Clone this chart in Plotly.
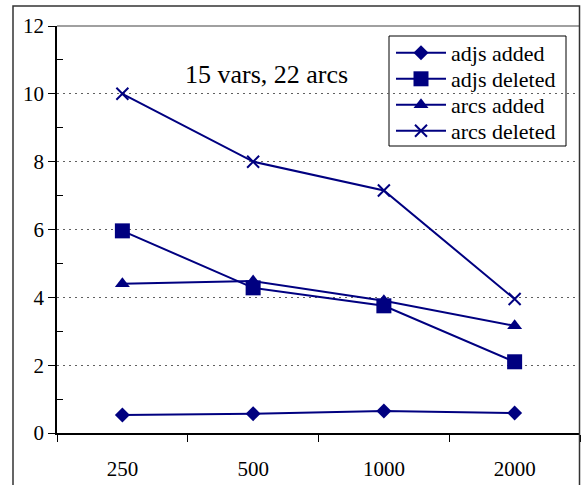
import plotly.graph_objects as go

categories = ["250", "500", "1000", "2000"]
adjs_added = [0.53, 0.57, 0.65, 0.59]
adjs_deleted = [5.96, 4.28, 3.75, 2.10]
arcs_added = [4.40, 4.48, 3.90, 3.16]
arcs_deleted = [10.0, 8.0, 7.15, 3.95]

series = [
    ("adjs added", adjs_added, "diamond", 11.5),
    ("adjs deleted", adjs_deleted, "square", 15),
    ("arcs added", arcs_added, "triangle-up", 13),
    ("arcs deleted", arcs_deleted, "x-thin", 12),
]

NAVY = "#000080"
FONT = "Liberation Serif"

W, H = 581, 485
L, R, T, B = 57, 1, 26, 52
pw, ph = W - L - R, H - T - B

def px_x(x):
    return (x - L) / pw

def px_y(y):
    return 1 - (y - T) / ph

row_centers = [53, 79, 105, 131]
legend_names = ["legend", "legend2", "legend3", "legend4"]

fig = go.Figure()
for (name, vals, sym, sz), lg in zip(series, legend_names):
    fig.add_trace(go.Scatter(
        x=categories, y=vals, name=name, mode="lines+markers",
        line=dict(color=NAVY, width=2),
        marker=dict(symbol=sym, size=sz, color=NAVY,
                    line=dict(color=NAVY, width=2 if sym == "x-thin" else 0)),
        legend=lg,
    ))

legend_layout = {}
for lg, yc in zip(legend_names, row_centers):
    legend_layout[lg] = dict(
        x=px_x(391), y=px_y(yc), xanchor="left", yanchor="middle",
        bgcolor="rgba(0,0,0,0)", borderwidth=0,
        font=dict(family=FONT, size=22, color="black"),
        itemwidth=50,
    )

fig.update_layout(
    width=W, height=H,
    margin=dict(l=L, r=R, t=T, b=B),
    paper_bgcolor="white", plot_bgcolor="white",
    font=dict(family=FONT, size=21, color="black"),
    showlegend=True,
    **legend_layout,
    xaxis=dict(
        type="category", range=[-0.5, 3.5],
        showline=True, linecolor="black", linewidth=1.5,
        ticks="outside", tickson="boundaries", ticklen=7, tickcolor="black",
        showgrid=False, zeroline=False, ticklabelstandoff=16,
        tickfont=dict(family=FONT, size=21),
    ),
    yaxis=dict(
        range=[0, 12], tickvals=[0, 2, 4, 6, 8, 10, 12],
        showline=True, linecolor="black", linewidth=1.5,
        ticks="outside", ticklen=7, tickcolor="black",
        showgrid=True, gridcolor="#606060", gridwidth=1, griddash="2px,4px",
        zeroline=False,
        tickfont=dict(family=FONT, size=21),
        minor=dict(tickvals=[1, 3, 5, 7, 9, 11], ticks="inside", ticklen=6,
                   tickcolor="black", showgrid=False),
    ),
    annotations=[dict(
        text="15 vars, 22 arcs", x=px_x(266), y=px_y(58),
        xref="paper", yref="paper", showarrow=False,
        font=dict(family=FONT, size=26, color="black"),
    )],
    shapes=[
        dict(type="line", xref="paper", yref="paper", x0=0, x1=1, y0=1, y1=1,
             line=dict(color="#808080", width=1.5)),
        dict(type="rect", xref="paper", yref="paper",
             x0=px_x(389), x1=px_x(566), y0=px_y(36), y1=px_y(146),
             line=dict(color="black", width=1), fillcolor="white", layer="below"),
        dict(type="rect", xref="paper", yref="paper",
             x0=px_x(13), x1=px_x(579.5), y0=px_y(6), y1=px_y(495),
             line=dict(color="#333333", width=1.5), layer="above"),
    ],
)

fig.write_html("out.html")
